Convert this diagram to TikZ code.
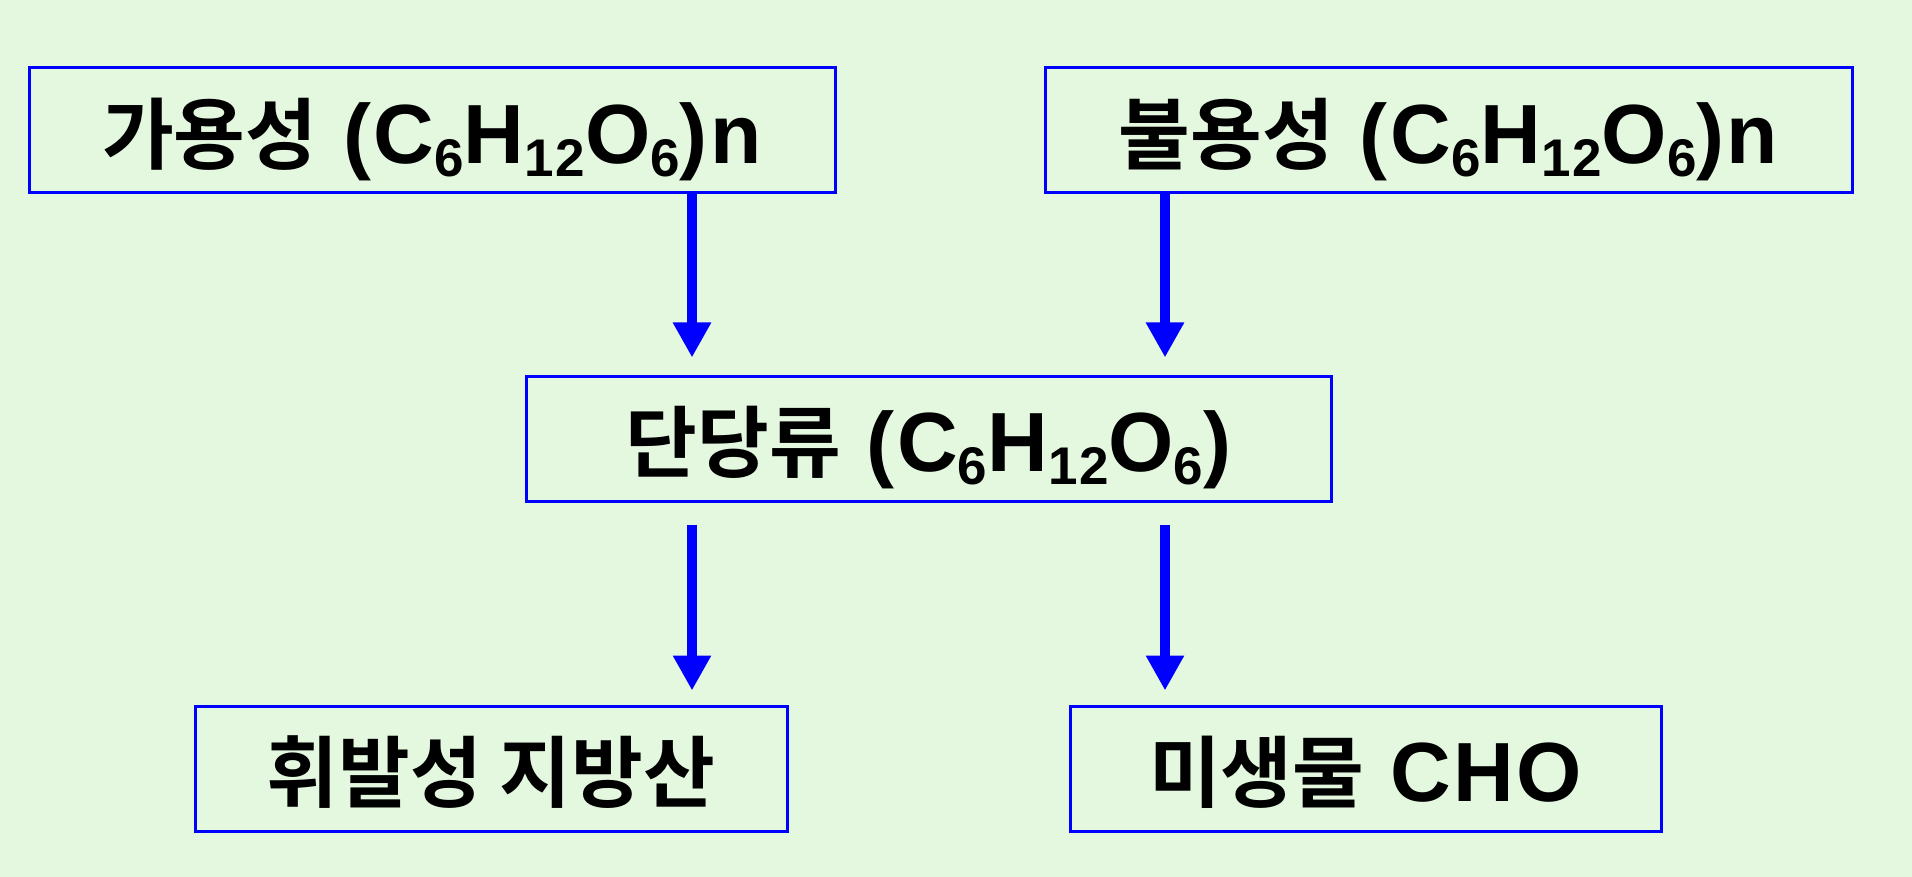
\documentclass[tikz,border=0pt]{standalone}
\usepackage{fontspec}
\setmainfont{Liberation Sans}[LetterSpace=3]
\newfontfamily\kr{Noto Sans CJK KR}[BoldFont={Noto Sans CJK KR Bold}]
\usetikzlibrary{arrows.meta}
\definecolor{bgcol}{HTML}{E4F8E0}
\definecolor{boxblue}{HTML}{0000FF}
\newcommand\hg[1]{{\kr\bfseries\fontsize{78}{82}\selectfont #1}}
\newcommand\sbs[1]{\raisebox{-13pt}{\fontsize{53}{56}\selectfont\bfseries #1}}
\begin{document}
\begin{tikzpicture}[x=1pt,y=-1pt,
  box/.style={draw=boxblue,line width=3pt,inner sep=0pt,minimum height=125pt,
    text height=80pt,text depth=14pt,
    font=\fontsize{84}{90}\selectfont\bfseries,text=black},
  arr/.style={draw=boxblue,line width=10pt,-{Triangle[width=36pt,length=35pt]}}]
\fill[bgcol] (0,0) rectangle (1912,877);
\useasboundingbox (0,0) rectangle (1912,877);
\node[box,minimum width=806pt] (b1) at (432,130.5) {\hg{가용성} (C\sbs{6}H\sbs{12}O\sbs{6})n};
\node[box,minimum width=807pt] (b2) at (1448.5,130.5) {\hg{불용성} (C\sbs{6}H\sbs{12}O\sbs{6})n};
\node[box,minimum width=805pt] (b3) at (928.5,438.5) {\hg{단당류} (C\sbs{6}H\sbs{12}O\sbs{6})};
\node[box,minimum width=592pt] (b4) at (491,768.5) {\hg{휘발성 지방산}};
\node[box,minimum width=591pt] (b5) at (1365.5,768.5) {\hg{미생물} CHO};
\coordinate (cl) at (692,0);
\coordinate (cr) at (1165,0);
\draw[arr,shorten <=-1pt,shorten >=17pt] (b1.south -| cl) -- (b3.north -| cl);
\draw[arr,shorten <=-1pt,shorten >=17pt] (b2.south -| cr) -- (b3.north -| cr);
\draw[arr,shorten <=22pt,shorten >=14pt] (b3.south -| cl) -- (b4.north -| cl);
\draw[arr,shorten <=22pt,shorten >=14pt] (b3.south -| cr) -- (b5.north -| cr);
\end{tikzpicture}
\end{document}
